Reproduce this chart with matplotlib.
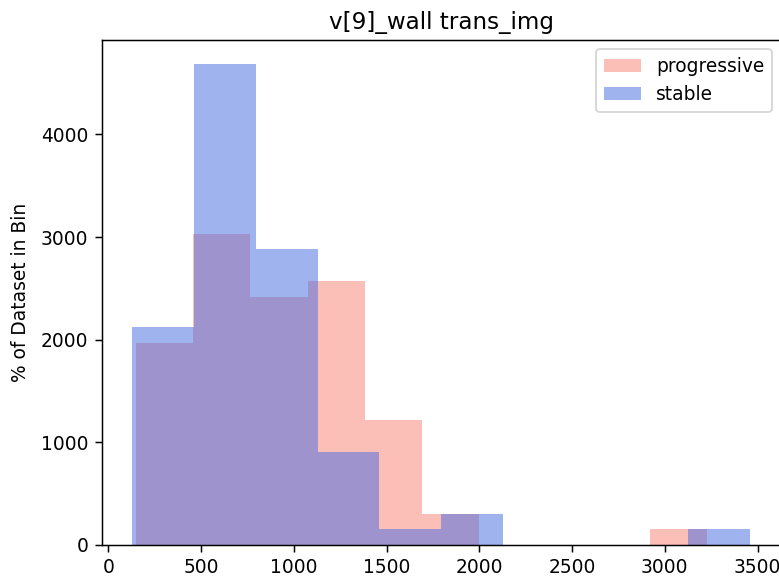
import matplotlib
matplotlib.use("Agg")
import matplotlib.pyplot as plt
import numpy as np

# bin edges and bar heights for each group
prog_edges = [150, 458, 766, 1074, 1382, 1690, 1998, 2306, 2614, 2922, 3230]
prog_heights = [1965, 3030, 2420, 2575, 1215, 305, 0, 0, 0, 152]

stable_edges = [130, 463, 796, 1129, 1462, 1795, 2128, 2461, 2794, 3127, 3460]
stable_heights = [2120, 4685, 2880, 910, 152, 305, 0, 0, 0, 152]

prog_centers = (np.array(prog_edges[:-1]) + np.array(prog_edges[1:])) / 2
stable_centers = (np.array(stable_edges[:-1]) + np.array(stable_edges[1:])) / 2

dpi = 134
fig = plt.figure(figsize=(779 / dpi, 578 / dpi), dpi=dpi)
ax = fig.add_axes([101.5 / 779, 33 / 578, 679.5 / 779, 505 / 578])

ax.hist(prog_centers, bins=prog_edges, weights=prog_heights,
        color="salmon", alpha=0.5, label="progressive")
ax.hist(stable_centers, bins=stable_edges, weights=stable_heights,
        color="royalblue", alpha=0.5, label="stable")

ax.set_title("v[9]_wall trans_img", fontsize=12.4)
ax.set_ylabel("% of Dataset in Bin", labelpad=6)
ax.legend(loc="upper right")

fig.savefig("out.png", dpi=dpi)
